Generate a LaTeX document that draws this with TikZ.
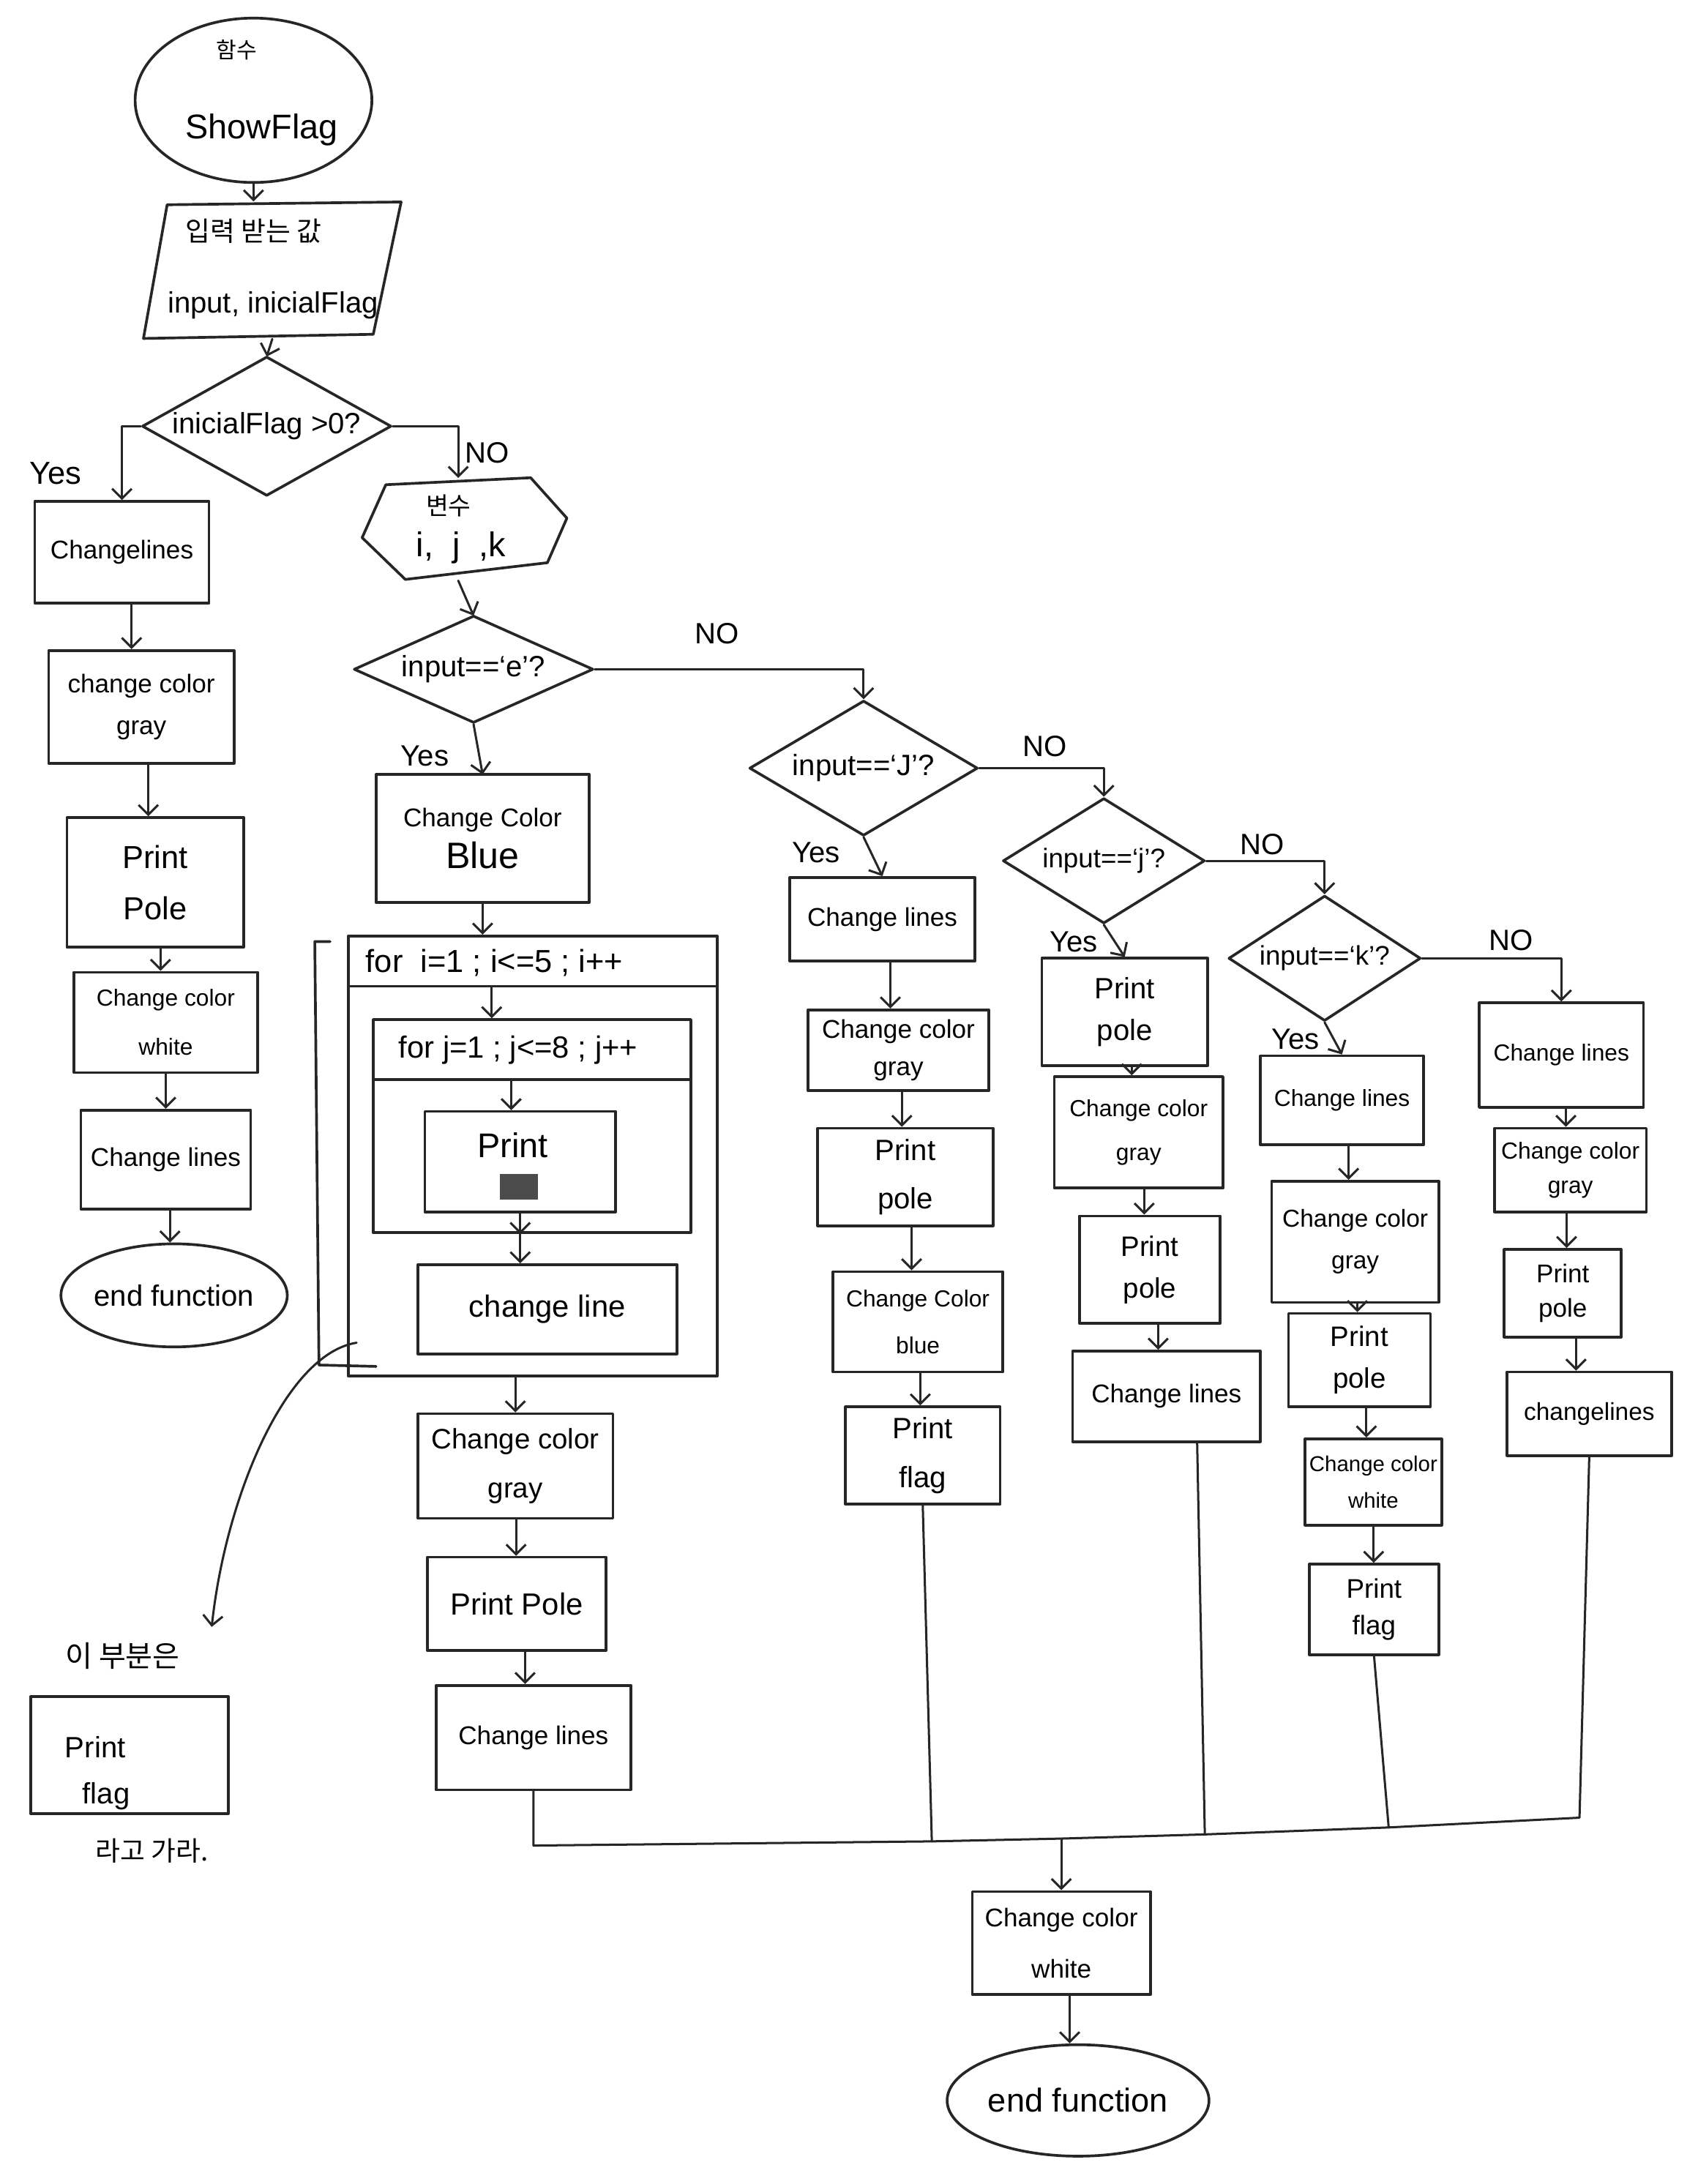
\documentclass[tikz,border=0pt]{standalone}
\usepackage{fontspec}
\setmainfont{Liberation Sans}
\newfontfamily\kr{Noto Sans CJK KR}
\usetikzlibrary{shapes.geometric,arrows.meta,calc}

% rectangle given by its corners (x1,y1)-(x2,y2)
\newcommand\boxc[7][]{\node[box,minimum width={(#5-#3)*0.2mm},minimum height={(#6-#4)*0.2mm},#1] (#2) at ({(#3+#5)/2},{(#4+#6)/2}) {#7};}
% decision diamond given by its bounding corners and aspect
\newcommand\decc[8][]{\node[dec,shape aspect=#7,minimum width={(#5-#3)*0.2mm},minimum height={(#6-#4)*0.2mm},#1] (#2) at ({(#3+#5)/2},{(#4+#6)/2}) {#8};}
% terminal ellipse given by its bounding corners
\newcommand\termc[7][]{\node[term,minimum width={(#5-#3)*0.2mm},minimum height={(#6-#4)*0.2mm},#1] (#2) at ({(#3+#5)/2},{(#4+#6)/2}) {#7};}
% straight downward arrow between two stacked boxes
\newcommand\down[2]{\path ($(#1.south)!.5!(#2.north)$) coordinate (m#1); \draw[arr] (m#1 |- #1.south) -- (m#1 |- #2.north);}

\begin{document}
\begin{tikzpicture}[x=0.2mm,y=-0.2mm,line join=round,line cap=round,
  ink/.style={draw=black!85},
  box/.style={ink,rectangle,line width=1.1pt,inner sep=1pt,align=center,font=\fontsize{11}{19}\selectfont},
  dec/.style={ink,diamond,line width=1.1pt,inner sep=0pt,align=center,font=\fontsize{12}{14}\selectfont},
  term/.style={ink,ellipse,line width=1.1pt,inner sep=0pt,align=center},
  outline/.style={ink,line width=1.1pt},
  txt/.style={inner sep=0pt,align=center},
  lbl/.style={inner sep=0pt,font=\fontsize{12}{14}\selectfont},
  arr/.style={ink,line width=0.9pt,-{Straight Barb[length=4pt,width=8pt]}},
  link/.style={ink,line width=0.9pt},
  sm/.style={font=\fontsize{9.5}{15}\selectfont},
  md/.style={font=\fontsize{10.5}{17}\selectfont},
  lg/.style={font=\fontsize{12.5}{20}\selectfont}]

\fill[white] (0,0) rectangle (1219,1568);
\useasboundingbox (0,0) rectangle (1219,1568);

% ---------- start and input ----------
\termc{start}{97}{13}{267}{131}{}
\node[txt,font=\kr\fontsize{9}{10}\selectfont] (startk) at (170,36) {함수};
\node[txt,font=\fontsize{14}{16}\selectfont] (startn) at (188,93) {ShowFlag};

\node[minimum width=37mm,minimum height=19.6mm,inner sep=0pt] (inp) at (195.5,194) {};
\draw[outline] (120,147) -- (288,145) -- (268,240) -- (103,243) -- cycle;
\node[txt,font=\kr\fontsize{11}{13}\selectfont] (inpk) at (182,166) {입력 받는 값};
\node[txt,font=\fontsize{12}{14}\selectfont] (inpt) at (196,219) {input, inicialFlag};

\draw[arr] (start.south) -- (start.south |- inp.north);
\draw[arr] (inp.south) -- (191.5,256);

\decc{d1}{102}{256}{281}{356}{1.79}{inicialFlag >0?}

% ---------- left column (Yes) ----------
\boxc[md]{L1}{25}{360}{150}{433}{Changelines}
\boxc[md]{L2}{35}{467}{168}{548}{change color\\gray}
\boxc[font=\fontsize{13}{21}\selectfont]{L3}{48}{587}{175}{680}{Print\\Pole}
\boxc[font=\fontsize{9.5}{20}\selectfont]{L4}{53}{698}{185}{770}{Change color\\white}
\boxc[md]{L5}{58}{797}{180}{868}{Change lines}
\termc[font=\fontsize{12}{14}\selectfont]{Lend}{48}{893}{202}{967}{end function}

\draw[arr] (d1.west) -| (L1.north);
\node[lbl,font=\fontsize{13}{14}\selectfont] (yes1) at (40,340) {Yes};
\down{L1}{L2}
\down{L2}{L3}
\down{L3}{L4}
\down{L4}{L5}
\down{L5}{Lend}

% ---------- variables ----------
\node[minimum width=29.4mm,minimum height=14.6mm,inner sep=0pt] (hex) at (329,380) {};
\draw[outline] (277,348) -- (381,343) -- (407,372) -- (393,404) -- (291,416) -- (260,386) -- cycle;
\node[txt,font=\kr\fontsize{10}{12}\selectfont] (hexk) at (322,363) {변수};
\node[txt,font=\fontsize{14}{16}\selectfont] (hexv) at (331,393) {i,\ \ j\ \ ,k};

\draw[arr] (d1.east) -| (hex.north);
\node[lbl] (no1) at (350,325) {NO};
\draw[arr] (hex.south) -- (340,442);

\decc{d2}{254}{442}{426}{519}{2.23}{input==`e'?}
\draw[arr] (d2.south) -- (346.5,556);
\node[lbl] (yes2) at (305,543) {Yes};

% ---------- 'e' branch ----------
\boxc[md]{C1}{270}{556}{423}{648}{Change Color\\{\fontsize{15}{16}\selectfont Blue}}
\boxc{loopi}{250}{672}{515}{988}{}
\draw[outline] (250,708) -- (515,708);
\node[txt,font=\fontsize{13}{15}\selectfont] (fori) at (355,691) {for\ \ i=1\ ;\ i<=5\ ;\ i++};
\boxc{loopj}{268}{732}{496}{885}{}
\draw[outline] (268,775) -- (496,775);
\node[txt,font=\fontsize{12.5}{15}\selectfont] (forj) at (372,754) {for j=1\ ;\ j<=8\ ;\ j++};
\boxc{pr}{305}{798}{442}{870}{}
\node[txt,font=\fontsize{14}{16}\selectfont] (prt) at (368,822) {Print};
\fill[black!70] (359,843) rectangle (386,861);
\boxc[lg]{cl}{300}{908}{486}{972}{change line}

\draw[outline] (237,676) -- (226,676) -- (229,980) -- (270,981);
\coordinate (brk) at (256,964);
\coordinate (note) at (152,1168);
\draw[arr] (brk) .. controls (205,972) and (162,1075) .. (note);

\draw[arr] (C1.south) -- (C1.south |- loopi.north);
\coordinate (hdri) at (353,708);
\coordinate (hdrj) at (367,775);
\draw[arr] (hdri) -- (hdri |- loopj.north);
\draw[arr] (hdrj) -- (hdrj |- pr.north);
\draw[arr] (pr.south) -- (pr.south |- loopj.south);
\draw[arr] (pr.south |- loopj.south) -- (pr.south |- cl.north);

\boxc[font=\fontsize{11.5}{20}\selectfont]{C2}{300}{1015}{440}{1090}{Change color\\gray}
\boxc[font=\fontsize{12.5}{15}\selectfont]{C3}{307}{1118}{435}{1185}{Print Pole}
\boxc[md]{C4}{313}{1210}{453}{1285}{Change lines}
\draw[arr] (C2.north |- loopi.south) -- (C2.north);
\down{C2}{C3}
\down{C3}{C4}

% ---------- side note ----------
\node[txt,font=\kr\fontsize{12}{14}\selectfont] (nt1) at (88,1189) {이 부분은};
\boxc{pf}{22}{1218}{164}{1302}{}
\node[txt,align=left,font=\fontsize{12}{19}\selectfont] (pft) at (70,1273) {Print\\\hspace*{2.5mm}flag};
\node[txt,font=\kr\fontsize{11}{13}\selectfont] (nt2) at (109,1329) {라고 가라.};

% ---------- 'J' branch ----------
\decc{d3}{538}{503}{702}{600}{1.69}{input==`J'?}
\draw[arr] (d2.east) -| (d3.north);
\node[lbl] (no2) at (515,455) {NO};
\boxc[md]{A1}{567}{630}{700}{690}{Change lines}
\boxc[font=\fontsize{10.5}{15}\selectfont]{A2}{580}{725}{710}{783}{Change color\\gray}
\boxc[font=\fontsize{12}{20}\selectfont]{A3}{587}{810}{713}{880}{Print\\pole}
\boxc[font=\fontsize{9.5}{19}\selectfont]{A4}{598}{913}{720}{985}{Change Color\\blue}
\boxc[font=\fontsize{12}{20}\selectfont]{A5}{607}{1010}{718}{1080}{Print\\flag}
\draw[arr] (d3.south) -- (A1.north);
\node[lbl] (yes3) at (586,612) {Yes};
\down{A1}{A2}
\down{A2}{A3}
\down{A3}{A4}
\down{A4}{A5}

% ---------- 'j' branch ----------
\decc[font=\fontsize{11}{13}\selectfont]{d4}{720}{573}{865}{663}{1.61}{input==`j'?}
\draw[arr] (d3.east) -| (d4.north);
\node[lbl] (no3) at (750,536) {NO};
\boxc[font=\fontsize{12}{17}\selectfont]{B1}{748}{688}{867}{765}{Print\\pole}
\boxc[font=\fontsize{9.5}{18}\selectfont]{B2}{757}{773}{878}{853}{Change color\\gray}
\boxc[font=\fontsize{11.5}{17}\selectfont]{B3}{775}{873}{876}{950}{Print\\pole}
\boxc[md]{B4}{770}{970}{905}{1035}{Change lines}
\draw[arr] (d4.south) -- (B1.north);
\node[lbl] (yes4) at (771,676) {Yes};
\down{B1}{B2}
\down{B2}{B3}
\down{B3}{B4}

% ---------- 'k' branch ----------
\decc[font=\fontsize{11}{13}\selectfont]{d5}{882}{643}{1020}{733}{1.53}{input==`k'?}
\draw[arr] (d4.east) -| (d5.north);
\node[lbl] (no4) at (906,606) {NO};
\boxc[sm]{K1}{905}{758}{1022}{822}{Change lines}
\boxc[font=\fontsize{10}{17}\selectfont]{K2}{913}{848}{1033}{935}{Change color\\gray}
\boxc[font=\fontsize{11.5}{17}\selectfont]{K3}{925}{943}{1027}{1010}{Print\\pole}
\boxc[font=\fontsize{8.8}{15}\selectfont]{K4}{937}{1033}{1035}{1095}{Change color\\white}
\boxc[font=\fontsize{11}{15}\selectfont]{K5}{940}{1123}{1033}{1188}{Print\\flag}
\draw[arr] (d5.south) -- (K1.north);
\node[lbl] (yes5) at (930,746) {Yes};
\down{K1}{K2}
\down{K2}{K3}
\down{K3}{K4}
\down{K4}{K5}

% ---------- otherwise ----------
\boxc[sm]{E1}{1062}{720}{1180}{795}{Change lines}
\boxc[font=\fontsize{9.5}{14}\selectfont]{E2}{1073}{810}{1182}{870}{Change color\\gray}
\boxc[font=\fontsize{10.5}{14}\selectfont]{E3}{1080}{897}{1164}{960}{Print\\pole}
\boxc[font=\fontsize{10}{14}\selectfont]{E4}{1082}{985}{1200}{1045}{changelines}
\draw[arr] (d5.east) -| (E1.north);
\node[lbl] (no5) at (1085,675) {NO};
\down{E1}{E2}
\down{E2}{E3}
\down{E3}{E4}

% ---------- merge and end ----------
\coordinate (j0) at (383,1325);
\coordinate (j1) at (669,1322);
\coordinate (jc) at (762,1320);
\coordinate (j2) at (865,1317);
\coordinate (j3) at (997,1312);
\coordinate (j4) at (1134,1305);
\draw[link] (C4.south) -- (j0) -- (j1) -- (jc) -- (j2) -- (j3) -- (j4) -- (E4.south);
\draw[link] (A5.south) -- (j1);
\draw[link] ([xshift=4.4mm]B4.south) -- (j2);
\draw[link] (K5.south) -- (j3);

\boxc[font=\fontsize{10.5}{21}\selectfont]{F1}{698}{1358}{826}{1432}{Change color\\white}
\termc[font=\fontsize{13.5}{15}\selectfont]{Fend}{680}{1468}{868}{1548}{end function}
\draw[arr] (jc) -- (F1.north);
\down{F1}{Fend}

\end{tikzpicture}
\end{document}
